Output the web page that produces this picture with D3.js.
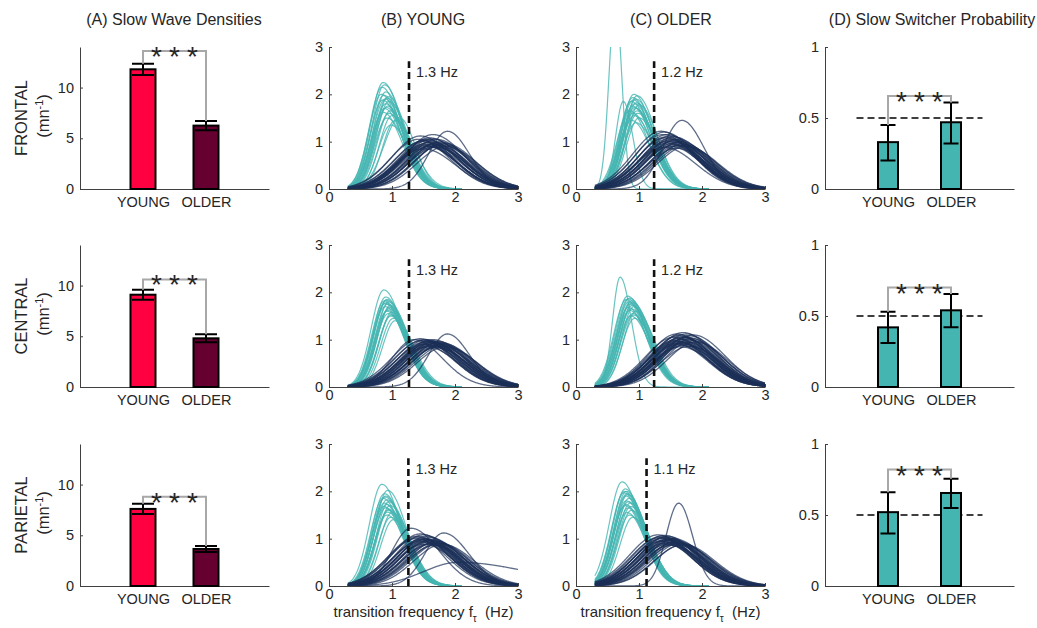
<!DOCTYPE html>
<html>
<head>
<meta charset="utf-8">
<script src="https://cdn.jsdelivr.net/npm/d3@7"></script>
<style>
  body { margin: 0; background: #fff; }
  svg text { font-family: "Liberation Sans", Arial, Helvetica, sans-serif; fill: #262626; }
</style>
</head>
<body>
<svg id="fig" width="1037" height="628"></svg>
<script>
// ---- data ----
const regions = ["FRONTAL", "CENTRAL", "PARIETAL"];
const groups = ["YOUNG", "OLDER"];

// (A) slow wave densities, mn^-1
const densityMean = [[11.8, 6.25], [9.1, 4.8], [7.6, 3.65]];
const densityErr = [[0.55, 0.45], [0.5, 0.4], [0.5, 0.3]];
const densityBracket = [13.6, 10.6, 8.8];

// (D) slow switcher probability
const switcherMean = [[0.33, 0.47], [0.42, 0.54], [0.52, 0.655]];
const switcherLow = [[0.20, 0.32], [0.31, 0.42], [0.37, 0.55]];
const switcherHigh = [[0.45, 0.61], [0.53, 0.655], [0.66, 0.755]];
const switcherBracket = [0.655, 0.70, 0.82];

// (B)/(C) threshold between the two kinds of switchers
const thresholdYoung = [1.27, 1.27, 1.26];
const thresholdYoungLabel = ["1.3 Hz", "1.3 Hz", "1.3 Hz"];
const thresholdOlder = [1.24, 1.24, 1.12];
const thresholdOlderLabel = ["1.2 Hz", "1.2 Hz", "1.1 Hz"];

// fitted densities: [mode (Hz), peak height, left width, right width]
const slowYoungFrontal = [[0.86,2.25],[0.88,2.2],[0.84,2.15],[0.9,2.05],[0.87,1.98],[0.92,1.92],[0.85,1.88],[0.95,1.85],[0.9,1.8],[0.93,1.75],[0.88,1.7],[0.97,1.65],[0.95,1.6],[1.0,1.55],[0.92,1.5],[1.05,1.45],[1.12,1.5,0.25,0.25],[0.98,1.35],[0.83,2.0],[0.89,1.9],[0.91,1.72],[0.86,1.62],[0.94,1.95]];
const fastYoungFrontal = [[1.45,1.12],[1.65,1.15],[1.6,1.08],[1.55,1.05],[1.7,1.05],[1.5,1.02],[1.62,1.0],[1.75,1.0],[1.58,0.98],[1.68,0.96],[1.52,0.95],[1.8,0.95],[1.65,0.93],[1.72,0.92],[1.6,0.9],[1.55,0.9],[1.85,0.9],[1.7,0.88],[1.5,0.85],[1.88,1.22,0.3,0.35],[1.42,1.05],[1.48,1.0],[1.57,1.03],[1.63,1.06],[1.73,0.98],[1.78,0.93],[1.53,0.92],[1.67,0.9],[1.6,0.95],[1.82,0.97]];
const slowYoungCentral = [[0.87,2.05],[0.9,1.9],[0.92,1.85],[0.88,1.82],[0.95,1.8],[0.9,1.78],[0.93,1.75],[0.97,1.72],[0.89,1.7],[0.95,1.65],[0.92,1.6],[1.0,1.58],[0.94,1.55],[0.98,1.5],[1.02,1.45],[1.05,1.4],[0.91,1.83],[0.89,1.76],[0.96,1.68],[0.93,1.62],[0.99,1.52]];
const fastYoungCentral = [[1.45,1.02],[1.5,1.0],[1.55,1.0],[1.6,0.98],[1.65,1.0],[1.7,0.97],[1.75,0.95],[1.62,0.95],[1.58,0.93],[1.68,0.92],[1.72,0.9],[1.8,0.92],[1.5,0.9],[1.65,0.88],[1.6,0.87],[1.75,0.86],[1.55,0.85],[1.7,0.83],[1.85,0.85],[1.88,1.12,0.3,0.35],[1.48,0.98],[1.53,0.95],[1.58,0.97],[1.63,0.92],[1.67,0.96],[1.73,0.93],[1.78,0.9],[1.82,0.88],[1.57,0.9],[1.69,0.85],[1.35,1.0,0.35,0.45]];
const slowYoungParietal = [[0.84,2.15],[0.93,2.02],[0.88,1.95],[0.9,1.9],[0.86,1.85],[0.92,1.82],[0.95,1.78],[0.88,1.75],[0.97,1.7],[0.9,1.65],[0.94,1.6],[1.0,1.55],[0.92,1.5],[0.98,1.45],[1.02,1.4],[0.89,1.88],[0.91,1.72],[0.87,1.68],[0.95,1.62],[0.93,1.56]];
const fastYoungParietal = [[1.45,1.1],[1.5,1.08],[1.4,1.05],[1.55,1.05],[1.6,1.02],[1.48,1.0],[1.52,0.98],[1.58,0.97],[1.65,0.96],[1.45,0.95],[1.7,0.94],[1.55,0.92],[1.62,0.9],[1.5,0.88],[1.75,0.9],[1.68,0.86],[1.3,1.22,0.3,0.45],[1.82,1.12,0.3,0.4],[2.05,0.5,0.55,1.12],[1.42,1.03],[1.47,0.98],[1.53,1.0],[1.57,0.95],[1.63,0.98],[1.67,0.92],[1.72,0.9],[1.6,0.88],[1.5,0.94],[1.8,0.88],[1.38,1.0]];
const slowOlderFrontal = [[0.92,2.0],[0.97,1.97],[0.9,1.93],[0.95,1.9],[0.88,1.85],[0.93,1.8],[1.0,1.78],[0.9,1.75],[0.95,1.7],[0.85,1.65],[0.98,1.6],[0.92,1.55],[1.0,1.5],[0.88,1.45],[0.95,1.4],[0.75,1.85,0.12,0.15],[0.625,4.0,0.1,0.1],[0.91,1.88],[0.96,1.82],[0.93,1.72],[0.97,1.65],[0.9,1.6]];
const fastOlderFrontal = [[1.35,1.22],[1.4,1.2],[1.45,1.15],[1.5,1.12],[1.55,1.1],[1.42,1.08],[1.6,1.05],[1.48,1.03],[1.52,1.0],[1.65,1.0],[1.58,0.98],[1.45,0.97],[1.7,0.95],[1.55,0.93],[1.62,0.92],[1.5,0.9],[1.75,0.9],[1.4,0.88],[1.6,0.86],[1.68,1.45,0.3,0.35],[1.38,1.15],[1.43,1.1],[1.47,1.06],[1.53,1.05],[1.57,1.02],[1.63,0.97],[1.67,0.93],[1.72,0.92],[1.5,0.95],[1.45,1.0]];
const slowOlderCentral = [[0.82,1.92],[0.85,1.88],[0.8,1.85],[0.88,1.82],[0.84,1.8],[0.9,1.78],[0.86,1.75],[0.92,1.7],[0.83,1.68],[0.88,1.65],[0.95,1.6],[0.9,1.55],[0.87,1.5],[0.93,1.45],[0.7,2.32,0.12,0.18],[0.83,1.86],[0.86,1.78],[0.89,1.72],[0.85,1.62],[0.91,1.52]];
const fastOlderCentral = [[1.6,1.12],[1.7,1.15],[1.75,1.12],[1.65,1.1],[1.8,1.08],[1.55,1.05],[1.7,1.05],[1.62,1.02],[1.78,1.0],[1.68,1.0],[1.85,0.98],[1.6,0.97],[1.72,0.95],[1.65,0.93],[1.9,0.95],[1.58,0.92],[1.75,0.9],[1.7,0.88],[1.8,0.86],[1.66,0.85],[1.63,1.08],[1.68,1.06],[1.73,1.03],[1.77,1.05],[1.83,1.02],[1.57,0.98],[1.65,0.96],[1.7,0.92],[1.76,0.95],[1.62,0.9],[1.86,1.1]];
const slowOlderParietal = [[0.73,2.2],[0.78,2.05],[0.8,2.0],[0.76,1.97],[0.82,1.93],[0.79,1.9],[0.84,1.85],[0.8,1.8],[0.86,1.75],[0.78,1.7],[0.83,1.65],[0.88,1.6],[0.81,1.55],[0.85,1.5],[0.9,1.45],[0.77,2.0],[0.81,1.95],[0.83,1.78],[0.79,1.72],[0.87,1.68]];
const fastOlderParietal = [[1.3,1.08],[1.35,1.05],[1.4,1.07],[1.45,1.05],[1.38,1.02],[1.5,1.0],[1.42,0.98],[1.55,1.0],[1.48,0.97],[1.6,0.95],[1.35,0.95],[1.52,0.93],[1.45,0.92],[1.65,0.9],[1.4,0.9],[1.58,0.88],[1.5,0.86],[1.7,0.88],[1.63,1.75,0.2,0.22],[1.32,1.02],[1.37,1.0],[1.43,1.03],[1.47,1.0],[1.53,0.97],[1.57,0.93],[1.62,0.92],[1.45,0.88],[1.55,0.9],[1.68,0.86],[1.4,0.95]];

const slowYoung = [slowYoungFrontal, slowYoungCentral, slowYoungParietal];
const fastYoung = [fastYoungFrontal, fastYoungCentral, fastYoungParietal];
const slowOlder = [slowOlderFrontal, slowOlderCentral, slowOlderParietal];
const fastOlder = [fastOlderFrontal, fastOlderCentral, fastOlderParietal];

// ---- layout ----
const svg = d3.select("#fig");
const colX = [80, 329, 576, 825], panelW = 189;
const rowY = [47, 245, 444], panelH = 142;
const axisColor = "#404040";
const barColors = ["#ff0040", "#650030"];
const teal = "#45b5b1", navy = "#1b2f57";

function styleAxis(g) {
  g.attr("font-family", null).attr("font-size", null);
  g.select(".domain").attr("stroke", axisColor);
  g.selectAll(".tick line").attr("stroke", axisColor);
  g.selectAll(".tick text").style("font-size", "14.5px").attr("fill", "#262626");
}

function titleAt(x, text) {
  svg.append("text").attr("x", x).attr("y", 25).attr("text-anchor", "middle")
    .style("font-size", "16px").text(text);
}
titleAt(174, "(A) Slow Wave Densities");
titleAt(423, "(B) YOUNG");
titleAt(671, "(C) OLDER");
titleAt(932, "(D) Slow Switcher Probability");

// bar panel (A and D)
function barPanel(r, col, domain, ticks, fmt, means, lows, highs, bracket, colors, barW, capW, refLine) {
  const g = svg.append("g").attr("transform", `translate(${colX[col]},${rowY[r]})`);
  const x = d3.scaleLinear().domain([0, 3]).range([0, panelW]);
  const y = d3.scaleLinear().domain(domain).range([panelH, 0]);

  g.append("g").attr("transform", `translate(0,${panelH})`)
    .call(d3.axisBottom(x).tickValues([1, 2]).tickFormat((d, i) => groups[i]).tickSize(0).tickPadding(8).tickSizeOuter(0))
    .call(styleAxis);
  g.append("g")
    .call(d3.axisLeft(y).tickValues(ticks).tickFormat(fmt).tickSize(-3).tickPadding(6).tickSizeOuter(0))
    .call(styleAxis);

  if (refLine !== undefined) {
    g.append("line").attr("x1", x(0.5)).attr("x2", x(2.5)).attr("y1", y(refLine)).attr("y2", y(refLine))
      .attr("stroke", "#000").attr("stroke-width", 1.3).attr("stroke-dasharray", "7,4");
  }

  g.selectAll("rect.bar").data(means).join("rect").attr("class", "bar")
    .attr("x", (d, i) => x(i + 1) - barW / 2).attr("width", barW)
    .attr("y", d => y(d)).attr("height", d => y(0) - y(d))
    .attr("fill", (d, i) => colors[i]).attr("stroke", "#000").attr("stroke-width", 2);

  // error bars
  means.forEach((m, i) => {
    const cx = x(i + 1);
    g.append("path")
      .attr("d", `M${cx},${y(lows[i])}V${y(highs[i])}M${cx - capW / 2},${y(lows[i])}H${cx + capW / 2}M${cx - capW / 2},${y(highs[i])}H${cx + capW / 2}`)
      .attr("stroke", "#000").attr("stroke-width", 2).attr("fill", "none");
  });

  // significance bracket
  g.append("path")
    .attr("d", `M${x(1)},${y(highs[0])}V${y(bracket)}H${x(2)}V${y(highs[1])}`)
    .attr("stroke", "#a8a8a8").attr("stroke-width", 2).attr("fill", "none");
  [-18, 0, 18].forEach(dx => {
    g.append("text").attr("x", x(1.5) + dx).attr("y", y(bracket) + 15)
      .attr("text-anchor", "middle").style("font-size", "28px").attr("fill", "#777").text("*");
  });
}

// density panel (B and C)
const xs = d3.range(0.3, 3.0001, 0.01);
function curve(p, def, xmax) {
  const [m, h, wl = def[0], wr = def[1]] = p;
  return xs.filter(v => v <= xmax).map(v => [v, h * Math.exp(-((v - m) ** 2) / (2 * (v < m ? wl : wr) ** 2))]);
}

function densityPanel(r, col, slow, fast, thr, thrLabel) {
  const g = svg.append("g").attr("transform", `translate(${colX[col]},${rowY[r]})`);
  const x = d3.scaleLinear().domain([0, 3]).range([0, panelW]);
  const y = d3.scaleLinear().domain([0, 3]).range([panelH, 0]);
  const clipId = `clip${r}${col}`;
  g.append("clipPath").attr("id", clipId).append("rect").attr("width", panelW).attr("height", panelH);

  const line = d3.line().x(d => x(d[0])).y(d => y(d[1]));
  const lines = g.append("g").attr("clip-path", `url(#${clipId})`).attr("fill", "none");
  lines.selectAll("path.slow").data(slow).join("path").attr("class", "slow")
    .attr("d", d => line(curve(d, [0.2, 0.3], 2.1)))
    .attr("stroke", teal).attr("stroke-width", 1.2).attr("stroke-opacity", 0.8);
  lines.selectAll("path.fast").data(fast).join("path").attr("class", "fast")
    .attr("d", d => line(curve(d, [0.45, 0.5], 3)))
    .attr("stroke", navy).attr("stroke-width", 1.3).attr("stroke-opacity", 0.7);

  g.append("line").attr("x1", x(thr)).attr("x2", x(thr)).attr("y1", y(0)).attr("y2", y(2.7))
    .attr("stroke", "#111").attr("stroke-width", 2.6).attr("stroke-dasharray", "7,4");
  g.append("text").attr("x", x(thr) + 7).attr("y", y(2.37)).style("font-size", "14.5px").text(thrLabel);

  g.append("g").attr("transform", `translate(0,${panelH})`)
    .call(d3.axisBottom(x).tickValues([0, 1, 2, 3]).tickFormat(d3.format("d")).tickSize(-3).tickPadding(3).tickSizeOuter(0))
    .call(styleAxis);
  g.append("g")
    .call(d3.axisLeft(y).tickValues([0, 1, 2, 3]).tickFormat(d3.format("d")).tickSize(-3).tickPadding(6).tickSizeOuter(0))
    .call(styleAxis);

  if (r === 2) {
    const t = g.append("text").attr("x", panelW / 2).attr("y", 173).attr("text-anchor", "middle")
      .style("font-size", "15px").attr("xml:space", "preserve");
    t.append("tspan").text("transition frequency f");
    t.append("tspan").attr("dy", 5).style("font-size", "10px").text("τ");
    t.append("tspan").attr("dy", -5).text("  (Hz)");
  }
}

regions.forEach((name, r) => {
  // row labels
  const cy = rowY[r] + panelH / 2;
  svg.append("text").attr("transform", `translate(27,${cy}) rotate(-90)`).attr("text-anchor", "middle")
    .style("font-size", "16.5px").text(name);
  const u = svg.append("text").attr("transform", `translate(49,${cy - 2}) rotate(-90)`).attr("text-anchor", "middle")
    .style("font-size", "16.5px");
  u.append("tspan").text("(mn");
  u.append("tspan").attr("dy", -6).style("font-size", "11px").text("-1");
  u.append("tspan").attr("dy", 6).text(")");

  barPanel(r, 0, [0, 14], [0, 5, 10], d3.format("d"),
    densityMean[r], densityMean[r].map((m, i) => m - densityErr[r][i]), densityMean[r].map((m, i) => m + densityErr[r][i]),
    densityBracket[r], barColors, 25, 22);
  densityPanel(r, 1, slowYoung[r], fastYoung[r], thresholdYoung[r], thresholdYoungLabel[r]);
  densityPanel(r, 2, slowOlder[r], fastOlder[r], thresholdOlder[r], thresholdOlderLabel[r]);
  barPanel(r, 3, [0, 1], [0, 0.5, 1], d => d === 0.5 ? "0.5" : d3.format("d")(d),
    switcherMean[r], switcherLow[r], switcherHigh[r], switcherBracket[r], [teal, teal], 20, 15, 0.5);
});
</script>
</body>
</html>
